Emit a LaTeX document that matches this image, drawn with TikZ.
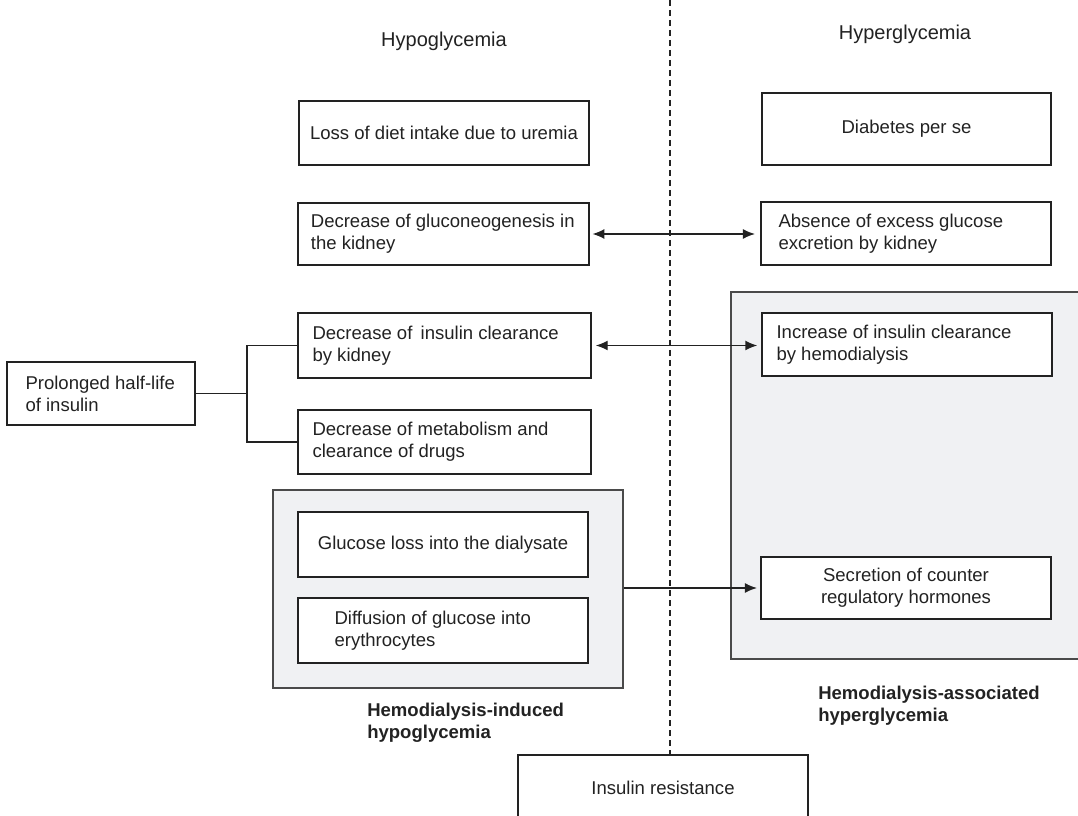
\documentclass[tikz,border=0pt]{standalone}
\usepackage{fontspec}
\setmainfont{Liberation Sans}
\usetikzlibrary{arrows.meta}
\definecolor{txt}{HTML}{222222}
\definecolor{grayfill}{HTML}{F0F1F3}
\definecolor{grayline}{HTML}{4A4A4A}
\tikzset{
  body/.style={font=\fontsize{13.9}{16.5}\selectfont, text=txt},
  box/.style={body, draw=txt, line width=1.1pt, fill=white, rectangle, inner sep=0pt, align=center},
  btext/.style={body, align=left, inner sep=0pt, anchor=west},
  grp/.style={draw=grayline, line width=1.1pt, fill=grayfill, rectangle, inner sep=0pt},
  conn/.style={draw=txt, line width=1.1pt},
  tip/.style={},
  arr/.style={conn, {Latex[length=9pt,width=7.5pt]}-{Latex[length=9pt,width=7.5pt]}},
  arrr/.style={conn, -{Latex[length=9pt,width=7.5pt]}},
  head/.style={font=\fontsize{15}{18}\selectfont, text=txt},
  glabel/.style={font=\fontsize{13.9}{16.5}\selectfont\bfseries, text=txt, align=left, inner sep=0pt}
}
\begin{document}
\begin{tikzpicture}[x=0.75pt,y=-0.75pt]
\clip (0,0) rectangle (1078,816);
\fill[white] (0,0) rectangle (1078,816);

% group boxes
\node[grp, minimum width=262.5pt, minimum height=148.5pt] (lgray) at (448,589) {};
\node[grp, minimum width=276.75pt, minimum height=275.25pt] (rgray) at (915.5,475.5) {};

% divider
\coordinate (dtop) at (670,0);
\coordinate (dbot) at (670,755);
\draw[draw=txt, line width=0.9pt, dash pattern=on 4.5pt off 3pt] (dtop) -- (dbot);

% headers
\node[head] (hypo) at (444,41) {Hypoglycemia};
\node[head] (hyper) at (905,34) {Hyperglycemia};

% left column
\node[box, minimum width=217.5pt, minimum height=48pt] (loss) at (444,133) {Loss of diet intake due to uremia};
\node[box, minimum width=218.25pt, minimum height=46.5pt] (dglu) at (443.5,234) {};
\node[btext] (dglut) at ([xshift=10pt]dglu.west) {Decrease of gluconeogenesis in\\the kidney};
\node[box, minimum width=219.75pt, minimum height=48.75pt] (dins) at (444.5,345.5) {};
\node[btext] (dinst) at ([xshift=11.25pt]dins.west) {Decrease of\, insulin clearance\\by kidney};
\node[box, minimum width=219.75pt, minimum height=48pt] (dmet) at (444.5,442) {};
\node[btext] (dmett) at ([xshift=11.25pt]dmet.west) {Decrease of metabolism and\\clearance of drugs};
\node[box, minimum width=141pt, minimum height=47.25pt] (prol) at (101,393.5) {};
\node[btext] (prolt) at ([xshift=14.25pt]prol.west) {Prolonged half-life\\of insulin};
\node[box, minimum width=217.5pt, minimum height=48.75pt] (gls) at (443,544.5) {Glucose loss into the dialysate};
\node[box, minimum width=217.5pt, minimum height=48.75pt] (dif) at (443,630.5) {};
\node[btext] (dift) at ([xshift=27.75pt]dif.west) {Diffusion of glucose into\\erythrocytes};

% right column
\node[box, minimum width=216.75pt, minimum height=54pt] (diab) at (906.5,129) {Diabetes per se};
\node[box, minimum width=217.5pt, minimum height=47.25pt] (abs) at (906,233.5) {};
\node[btext] (abst) at ([xshift=13.5pt]abs.west) {Absence of excess glucose\\excretion by kidney};
\node[box, minimum width=217.5pt, minimum height=47.25pt] (incr) at (907,344.5) {};
\node[btext] (incrt) at ([xshift=11.25pt]incr.west) {Increase of insulin clearance\\by hemodialysis};
\node[box, minimum width=217.5pt, minimum height=46.5pt] (sec) at (906,588) {Secretion of counter\\regulatory hormones};

% bottom
\node[box, minimum width=217.5pt, minimum height=49.5pt] (ins) at (663,788) {Insulin resistance};

% group labels
\node[glabel, anchor=north west] (lblhypo) at (367,703) {Hemodialysis-induced\\hypoglycemia};
\node[glabel, anchor=north west] (lblhyper) at (818,686) {Hemodialysis-associated\\hyperglycemia};

% connectors
\draw[arr, shorten <=2pt, shorten >=4pt] (dglu.east) -- (abs.west |- dglu.east);
\draw[arr, shorten <=3pt, shorten >=3pt] (dins.east) -- (incr.west |- dins.east);
\draw[arrr, shorten >=2.5pt] (lgray.east |- sec.west) -- (sec.west);

\coordinate (jn) at (247,393.5);
\draw[conn] (prol.east) -- (jn);
\draw[conn] (dins.west) -| (jn) |- (dmet.west);
\end{tikzpicture}
\end{document}
